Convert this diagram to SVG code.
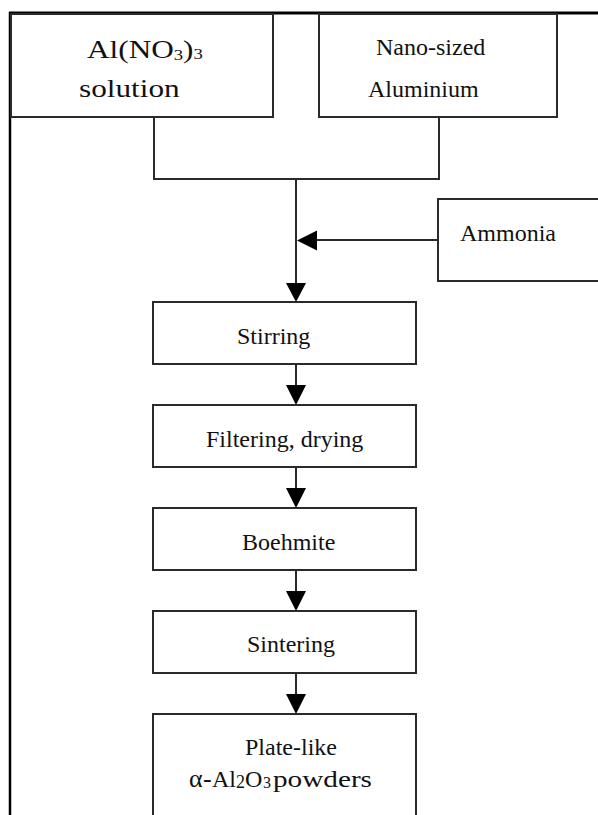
<svg xmlns="http://www.w3.org/2000/svg" width="598" height="815" viewBox="0 0 598 815">
<style>
.box{fill:#fff;stroke:#2a2a2a;stroke-width:2}
.ln{fill:none;stroke:#2a2a2a;stroke-width:2}
.ah{fill:#000;stroke:none}
.t{font-family:"Liberation Serif","Times New Roman",serif;font-size:24px;fill:#111}
.tb{font-family:"Liberation Serif","Times New Roman",serif;font-size:25px;fill:#111}
</style>
<rect width="598" height="815" fill="#fff"/>
<g id="frame">
<line x1="9" y1="13" x2="598" y2="13" stroke="#000" stroke-width="3"/>
<line x1="10" y1="12" x2="10" y2="815" stroke="#000" stroke-width="2.5"/>
</g>
<g id="connectors">
<polyline class="ln" points="154,117 154,179 439,179 439,117"/>
<line class="ln" x1="296" y1="179" x2="296" y2="285"/>
<polygon class="ah" points="286,283 306,283 296,302"/>
<line class="ln" x1="438" y1="240" x2="315" y2="240"/>
<polygon class="ah" points="317,230.5 317,250.5 297,240.5"/>
<line class="ln" x1="296" y1="364" x2="296" y2="387"/>
<polygon class="ah" points="286,385 306,385 296,405"/>
<line class="ln" x1="296" y1="467" x2="296" y2="490"/>
<polygon class="ah" points="286,488 306,488 296,508"/>
<line class="ln" x1="296" y1="570" x2="296" y2="593"/>
<polygon class="ah" points="286,591 306,591 296,611"/>
<line class="ln" x1="296" y1="673" x2="296" y2="696"/>
<polygon class="ah" points="286,694 306,694 296,714"/>
</g>
<g id="n-alno3">
<rect class="box" x="11" y="14" width="262" height="103"/>
<text class="tb" transform="translate(87,58) scale(1.25,1)">Al(NO<tspan font-size="15" dy="2">3</tspan><tspan dy="-2">)</tspan><tspan font-size="15" dy="1">3</tspan></text>
<text class="tb" transform="translate(79,96.5) scale(1.25,1)">solution</text>
</g>
<g id="n-nano">
<rect class="box" x="319" y="14" width="238" height="103"/>
<text class="t" x="376" y="55">Nano-sized</text>
<text class="t" x="368" y="96.5">Aluminium</text>
</g>
<g id="n-ammonia">
<rect class="box" x="438" y="199" width="170" height="82"/>
<text class="t" x="460" y="241">Ammonia</text>
</g>
<g id="n-stirring">
<rect class="box" x="153" y="302" width="263" height="62"/>
<text class="t" x="237" y="344">Stirring</text>
</g>
<g id="n-filtering">
<rect class="box" x="153" y="405" width="263" height="62"/>
<text class="t" x="206" y="447">Filtering, drying</text>
</g>
<g id="n-boehmite">
<rect class="box" x="153" y="508" width="263" height="62"/>
<text class="t" x="242" y="550">Boehmite</text>
</g>
<g id="n-sintering">
<rect class="box" x="153" y="611" width="263" height="62"/>
<text class="t" x="247" y="652">Sintering</text>
</g>
<g id="n-plate">
<rect class="box" x="153" y="714" width="263" height="120"/>
<text class="t" x="245" y="755">Plate-like</text>
<text class="t" y="787"><tspan x="189" font-size="26">α</tspan><tspan x="203" font-size="26">-</tspan><tspan x="212">Al</tspan><tspan x="236" font-size="18" dy="1">2</tspan><tspan x="245" dy="-1">O</tspan><tspan x="263" font-size="16" dy="1">3</tspan><tspan x="273" dy="-1" textLength="99" lengthAdjust="spacingAndGlyphs">powders</tspan></text>
</g>
</svg>
